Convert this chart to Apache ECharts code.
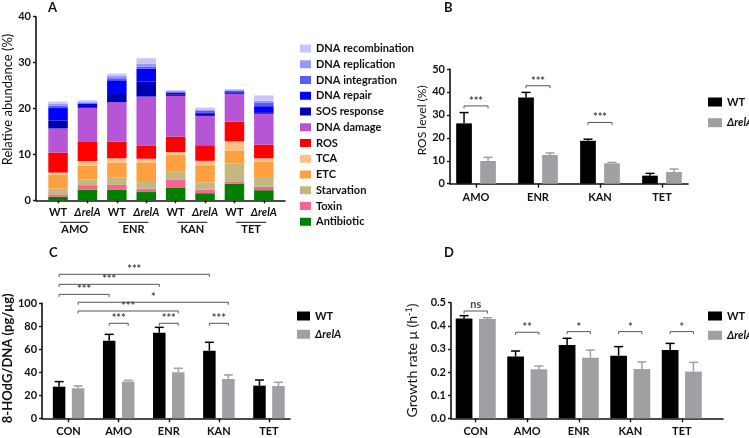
<!DOCTYPE html>
<html><head><meta charset="utf-8">
<script src="https://cdn.jsdelivr.net/npm/echarts@6/dist/echarts.min.js"></script>
<style>html,body{margin:0;padding:0;background:#fff}#c{width:749px;height:438px}</style>
</head><body><div id="c"></div>
<script>
// ---------- Panel A data ----------
const aLabels = ['WT','ΔrelA','WT','ΔrelA','WT','ΔrelA','WT','ΔrelA'];
const aGroups = ['AMO','ENR','KAN','TET'];
const aNames = ['Antibiotic','Toxin','Starvation','ETC','TCA','ROS','DNA damage','SOS response','DNA repair','DNA integration','DNA replication','DNA recombination'];
const antibiotic       = [0.8, 2.3, 2.35, 1.8, 2.8, 1.55, 3.6, 2.2];
const toxin            = [0.5, 1.0, 1.0, 0.75, 1.75, 0.8, 0.4, 0.75];
const starvation       = [1.25, 1.25, 1.65, 1.65, 1.8, 1.55, 4.0, 2.1];
const etc              = [3.05, 3.0, 3.2, 3.95, 3.6, 3.75, 2.85, 3.35];
const tca              = [0.45, 1.0, 0.95, 0.9, 0.55, 0.95, 2.0, 0.75];
const ros              = [4.35, 4.15, 3.6, 2.8, 3.4, 3.4, 4.3, 3.0];
const dnaDamage        = [5.25, 7.45, 8.6, 10.75, 8.85, 6.4, 6.05, 6.7];
const sosResponse      = [1.75, 0.6, 1.8, 3.3, 0.35, 0.45, 0.3, 0.35];
const dnaRepair        = [2.7, 0.3, 3.0, 2.75, 0.35, 0.3, 0.25, 1.3];
const dnaIntegration   = [0.5, 0.2, 0.45, 0.5, 0.15, 0.3, 0.15, 0.7];
const dnaReplication   = [0.45, 0.25, 0.5, 0.6, 0.2, 0.3, 0.15, 0.5];
const dnaRecombination = [0.45, 0.3, 0.5, 1.2, 0.2, 0.45, 0.2, 1.15];
const aValues = [antibiotic, toxin, starvation, etc, tca, ros, dnaDamage, sosResponse, dnaRepair, dnaIntegration, dnaReplication, dnaRecombination];
const aColors = ['#008000','#f76590','#c3b881','#ffa040','#ffc283','#ff0000','#b655d6','#0000b2','#0000ff','#5a5af6','#9898f6','#c6c6f9'];

// ---------- Panel B data ----------
const bCats = ['AMO','ENR','KAN','TET'];
const bWT = [26.3, 37.6, 18.7, 3.5];
const bWTsd = [4.7, 2.2, 0.7, 1.0];
const bRel = [9.9, 12.5, 8.9, 5.1];
const bRelSd = [1.6, 0.9, 0.4, 1.3];
// [category, series, category, series, y, text]
const bSig = [[0,0,0,1,33.9,'***'],[1,0,1,1,42.7,'***'],[2,0,2,1,26.7,'***']];

// ---------- Panel C data ----------
const cCats = ['CON','AMO','ENR','KAN','TET'];
const cWT = [27.5, 67.5, 74.5, 58.8, 28.4];
const cWTsd = [4.4, 5.5, 4.6, 7.3, 4.9];
const cRel = [26.1, 31.9, 40.0, 34.2, 28.1];
const cRelSd = [2.0, 1.1, 3.5, 3.5, 3.2];
const cSig = [[0,0,3,0,125.2,'***'],[0,0,2,0,116.5,'***'],[0,0,1,0,107.8,'***'],[0,1,3,1,100.9,'*'],[0,1,2,1,93.3,'***'],[1,0,1,1,82.6,'***'],[2,0,2,1,82.6,'***'],[3,0,3,1,82.6,'***']];

// ---------- Panel D data ----------
const dCats = ['CON','AMO','ENR','KAN','TET'];
const dWT = [0.432, 0.267, 0.317, 0.271, 0.295];
const dWTsd = [0.012, 0.024, 0.029, 0.039, 0.029];
const dRel = [0.429, 0.212, 0.262, 0.213, 0.202];
const dRelSd = [0.006, 0.014, 0.033, 0.031, 0.040];
const dSig = [[0,0,0,1,0.464,'ns'],[1,0,1,1,0.372,'**'],[2,0,2,1,0.375,'*'],[3,0,3,1,0.375,'*'],[4,0,4,1,0.375,'*']];

// ---------- styling ----------
const FONT = 'Lato';
const INK = '#111';
const GRAY = '#a0a0a4';
const relRich = {
  n: {fontFamily: FONT, fontWeight: 'bold', fontSize: 11, color: INK},
  i: {fontFamily: FONT, fontWeight: 'bold', fontStyle: 'italic', fontSize: 11, color: INK}
};
function relFmt(name) { return name === 'ΔrelA' ? '{i|ΔrelA}' : '{n|' + name + '}'; }

const panels = {
  B: {grid: 1, barW: 15.7, gap: 8.3},
  C: {grid: 2, barW: 12.5, gap: 6.5},
  D: {grid: 3, barW: 16.7, gap: 6.6}
};
const A_BAR_W = 19.5;

function xAxisCfg(gridIndex, min, max, cats) {
  const vals = cats.map((_, i) => i);
  return {
    type: 'value', gridIndex, min, max,
    splitLine: {show: false},
    axisLine: {onZero: false, lineStyle: {color: INK, width: 1.6}},
    axisTick: {customValues: vals, length: 4, lineStyle: {color: INK, width: 1.4}},
    axisLabel: {customValues: vals, margin: 8, fontFamily: FONT, fontWeight: 'bold', fontSize: 11, color: INK,
      formatter: v => cats[Math.round(v)]}
  };
}
function yAxisCfg(gridIndex, max, interval, name, nameStyle, nameGap, fmt) {
  return {
    type: 'value', gridIndex, min: 0, max, interval,
    splitLine: {show: false},
    axisLine: {show: true, onZero: false, lineStyle: {color: INK, width: 1.6}},
    axisTick: {show: true, length: 3, lineStyle: {color: INK, width: 1.4}},
    axisLabel: {margin: 5, fontFamily: FONT, fontWeight: 'bold', fontSize: 11, color: INK, formatter: fmt},
    name, nameLocation: 'middle', nameRotate: 90, nameGap,
    nameTextStyle: Object.assign({fontFamily: FONT, color: INK}, nameStyle)
  };
}

const series = [];
// Panel A stacked bars (each layer sits on the sum of the layers below it)
aNames.forEach((nm, k) => {
  series.push({
    type: 'custom', name: nm, xAxisIndex: 0, yAxisIndex: 0,
    itemStyle: {color: aColors[k]},
    data: aValues[k].map((v, i) => [i, v]),
    renderItem: (params, api) => {
      const i = api.value(0);
      let base = 0;
      for (let j = 0; j < k; j++) base += aValues[j][i];
      const p0 = api.coord([i, base]);
      const p1 = api.coord([i, base + api.value(1)]);
      return {type: 'rect', shape: {x: p0[0] - A_BAR_W / 2, y: p1[1], width: A_BAR_W, height: p0[1] - p1[1]},
        style: {fill: aColors[k]}};
    }
  });
});
// Panel A group labels
series.push({
  type: 'custom', name: 'groups', xAxisIndex: 0, yAxisIndex: 0, silent: true,
  data: aGroups.map((g, i) => [i]),
  renderItem: (params, api) => {
    const g = api.value(0);
    const p = api.coord([2 * g + 0.5, 0]);
    const cx = p[0] + 2;
    return {type: 'group', children: [
      {type: 'line', shape: {x1: cx - 15, y1: p[1] + 22, x2: cx + 15, y2: p[1] + 22}, style: {stroke: INK, lineWidth: 1}},
      {type: 'text', style: {text: aGroups[g], x: cx, y: p[1] + 29, align: 'center', verticalAlign: 'middle',
        font: 'bold 11px ' + FONT, fill: INK}}
    ]};
  }
});

function addPair(key, wt, wtSd, rel, relSd, sig) {
  const P = panels[key];
  const gi = P.grid;
  const gapPct = (P.gap / P.barW * 100).toFixed(1) + '%';
  const off = (P.barW + P.gap) / 2;
  series.push({type: 'bar', name: 'WT', xAxisIndex: gi, yAxisIndex: gi, barWidth: P.barW, barGap: gapPct,
    itemStyle: {color: '#000'}, data: wt.map((v, i) => [i, v])});
  series.push({type: 'bar', name: 'ΔrelA', xAxisIndex: gi, yAxisIndex: gi, barWidth: P.barW, barGap: gapPct,
    itemStyle: {color: GRAY}, data: rel.map((v, i) => [i, v])});
  [[wt, wtSd, '#000', -1], [rel, relSd, GRAY, 1]].forEach(([m, s, col, sgn]) => {
    series.push({
      type: 'custom', name: 'err' + key + sgn, xAxisIndex: gi, yAxisIndex: gi, silent: true, z: 3,
      data: m.map((v, i) => [i, v, s[i]]),
      renderItem: (params, api) => {
        const b = api.coord([api.value(0), api.value(1)]);
        const t = api.coord([api.value(0), api.value(1) + api.value(2)]);
        const x = b[0] + sgn * off;
        return {type: 'group', children: [
          {type: 'line', shape: {x1: x, y1: b[1], x2: x, y2: t[1]}, style: {stroke: col, lineWidth: 1.5}},
          {type: 'line', shape: {x1: x - 4.5, y1: t[1], x2: x + 4.5, y2: t[1]}, style: {stroke: col, lineWidth: 1.5}}
        ]};
      }
    });
  });
  series.push({
    type: 'custom', name: 'sig' + key, xAxisIndex: gi, yAxisIndex: gi, silent: true, z: 4, clip: false,
    data: sig.map(s => s.slice(0, 5)),
    renderItem: (params, api) => {
      const i = params.dataIndex;
      const a = api.coord([api.value(0), api.value(4)]);
      const b = api.coord([api.value(2), api.value(4)]);
      const xa = a[0] + (api.value(1) ? off : -off);
      const xb = b[0] + (api.value(3) ? off : -off);
      const y = a[1];
      const isNs = sig[i][5] === 'ns';
      return {type: 'group', children: [
        {type: 'polyline', shape: {points: [[xa, y + 2.5], [xa, y], [xb, y], [xb, y + 2.5]]}, style: {stroke: '#555', lineWidth: 1, fill: null}},
        {type: 'text', style: {text: sig[i][5], x: (xa + xb) / 2, y: isNs ? y - 1 : y + 1, align: 'center', verticalAlign: 'bottom',
          font: (isNs ? 'bold 11px ' : 'bold 11px ') + FONT, fill: '#4a4a4a'}}
      ]};
    }
  });
}
addPair('B', bWT, bWTsd, bRel, bRelSd, bSig);
addPair('C', cWT, cWTsd, cRel, cRelSd, cSig);
addPair('D', dWT, dWTsd, dRel, dRelSd, dSig);

const aXAxis = {
  type: 'value', gridIndex: 0, min: -0.75, max: 7.72,
  splitLine: {show: false},
  axisLine: {onZero: false, lineStyle: {color: INK, width: 1.6}},
  axisTick: {customValues: aLabels.map((_, i) => i), length: 3, lineStyle: {color: INK, width: 1.4}},
  axisLabel: {customValues: aLabels.map((_, i) => i), margin: 7, rich: relRich,
    formatter: v => relFmt(aLabels[Math.round(v)])}
};

const legendBase = {
  orient: 'vertical', icon: 'rect', selectedMode: false,
  textStyle: {fontFamily: FONT, fontWeight: 'bold', fontSize: 11, color: INK, rich: relRich},
  formatter: relFmt
};

const option = {
  animation: false,
  backgroundColor: '#fff',
  title: [
    {text: 'A', left: 48, top: 1, padding: 0, textStyle: {fontFamily: FONT, fontWeight: 'bold', fontSize: 13, color: INK}},
    {text: 'B', left: 444, top: 1, padding: 0, textStyle: {fontFamily: FONT, fontWeight: 'bold', fontSize: 13, color: INK}},
    {text: 'C', left: 49, top: 246, padding: 0, textStyle: {fontFamily: FONT, fontWeight: 'bold', fontSize: 13, color: INK}},
    {text: 'D', left: 444, top: 246, padding: 0, textStyle: {fontFamily: FONT, fontWeight: 'bold', fontSize: 13, color: INK}}
  ],
  grid: [
    {left: 36, top: 16.7, width: 249, height: 183.6},
    {left: 450, top: 69, width: 238, height: 114.7},
    {left: 40, top: 303.3, width: 250, height: 115},
    {left: 451, top: 302.7, width: 272, height: 115.6}
  ],
  xAxis: [
    aXAxis,
    xAxisCfg(1, -0.42, 3.42, bCats),
    xAxisCfg(2, -0.53, 4.42, cCats),
    xAxisCfg(3, -0.48, 4.8, dCats)
  ],
  yAxis: [
    yAxisCfg(0, 40, 10, 'Relative abundance (%)', {fontSize: 13, padding: [0, 0, 0, 18]}, 21),
    yAxisCfg(1, 50, 10, 'ROS level (%)', {fontSize: 12, padding: [0, 0, 0, 12]}, 17),
    yAxisCfg(2, 100, 20, '8-HOdG/DNA (pg/μg)', {fontSize: 13, fontWeight: 'bold', padding: [0, 0, 0, 5]}, 25),
    yAxisCfg(3, 0.5, 0.1, '{t|Growth rate μ (h}{s|-1}{t|)}', {rich: {t: {fontFamily: FONT, fontSize: 14, color: INK}, s: {fontFamily: FONT, fontSize: 9, color: INK, verticalAlign: 'top', padding: [0, 0, 6, 0]}}}, 31, v => v.toFixed(1))
  ],
  legend: [
    Object.assign({}, legendBase, {data: aNames.slice().reverse(), left: 295, top: 38, itemWidth: 11, itemHeight: 8, itemGap: 4.75,
      textStyle: Object.assign({}, legendBase.textStyle, {lineHeight: 10})}),
    Object.assign({}, legendBase, {data: ['WT', 'ΔrelA'], left: 703, top: 91, itemWidth: 14, itemHeight: 9, itemGap: 8.7,
      textStyle: Object.assign({}, legendBase.textStyle, {lineHeight: 12})}),
    Object.assign({}, legendBase, {data: ['WT', 'ΔrelA'], left: 292, top: 305, itemWidth: 13, itemHeight: 9, itemGap: 6.3,
      textStyle: Object.assign({}, legendBase.textStyle, {lineHeight: 12})}),
    Object.assign({}, legendBase, {data: ['WT', 'ΔrelA'], left: 703, top: 305, itemWidth: 14, itemHeight: 9, itemGap: 7.3,
      textStyle: Object.assign({}, legendBase.textStyle, {lineHeight: 12})})
  ],
  series
};
const chart = echarts.init(document.getElementById('c'), null, {renderer: 'canvas'});
chart.setOption(option);
</script>
</body></html>
